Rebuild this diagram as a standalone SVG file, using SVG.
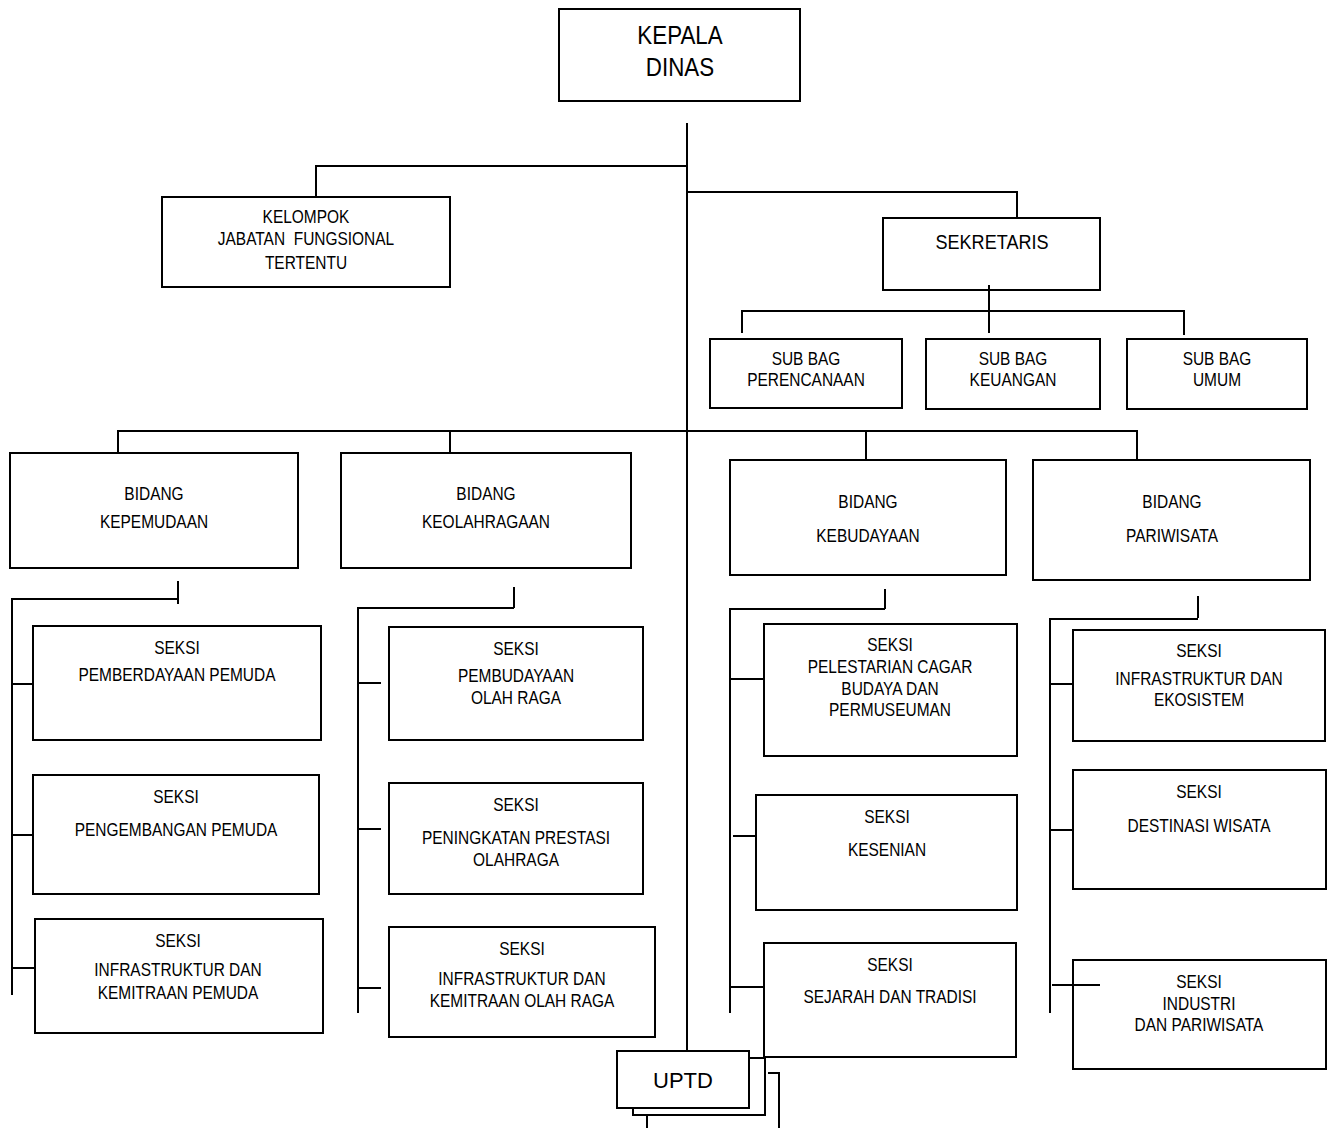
<svg xmlns="http://www.w3.org/2000/svg" width="1336" height="1128" viewBox="0 0 1336 1128">
<style>
rect{fill:#fff;stroke:#000;stroke-width:2}
line,polyline{stroke:#000;stroke-width:2;fill:none}
text{font-family:"Liberation Sans Narrow","Liberation Sans",Arial,sans-serif;font-size:18px;text-anchor:middle;fill:#000}
.big{font-size:26px}
.mid{font-size:21px}
.uptd{font-size:22px}
</style>
<rect width="1336" height="1128" style="fill:#fff;stroke:none"/>
<g id="connectors">
<line x1="687" y1="123" x2="687" y2="1052"/>
<polyline points="687,166 316,166 316,197"/>
<polyline points="687,192 1017,192 1017,218"/>
<line x1="989" y1="285" x2="989" y2="333"/>
<polyline points="742,333 742,311 1184,311 1184,335"/>
<polyline points="118,453 118,431 1137,431 1137,460"/>
<line x1="450" y1="431" x2="450" y2="453"/>
<line x1="866" y1="431" x2="866" y2="460"/>
<line x1="178" y1="581" x2="178" y2="604"/>
<polyline points="178,599 12,599 12,995"/>
<line x1="12" y1="684" x2="33" y2="684"/>
<line x1="12" y1="835" x2="34" y2="835"/>
<line x1="12" y1="968" x2="35" y2="968"/>
<line x1="514" y1="587" x2="514" y2="608"/>
<polyline points="514,608 358,608 358,1013"/>
<line x1="358" y1="683" x2="381" y2="683"/>
<line x1="358" y1="829" x2="381" y2="829"/>
<line x1="357" y1="988" x2="381" y2="988"/>
<line x1="885" y1="589" x2="885" y2="609"/>
<polyline points="885,609 730,609 730,1013"/>
<line x1="730" y1="679" x2="764" y2="679"/>
<line x1="733" y1="836" x2="756" y2="836"/>
<line x1="730" y1="987" x2="764" y2="987"/>
<line x1="1198" y1="596" x2="1198" y2="618"/>
<polyline points="1198,619 1050,619 1050,1013"/>
<line x1="1050" y1="684" x2="1073" y2="684"/>
<line x1="1050" y1="830" x2="1073" y2="830"/>
<polyline points="768,1073 779,1073 779,1128"/>
<line x1="647" y1="1115" x2="647" y2="1128"/>
</g>
<g id="kepala-dinas"><rect x="559" y="9" width="241" height="92"/><g transform="translate(680 0) scale(0.86 1)"><text class="big" x="0" y="44">KEPALA</text><text class="big" x="0" y="76">DINAS</text></g></g>
<g id="kelompok"><rect x="162" y="197" width="288" height="90"/><g transform="translate(306 0) scale(0.86 1)"><text x="0" y="223">KELOMPOK</text><text x="0" y="245" xml:space="preserve">JABATAN  FUNGSIONAL</text><text x="0" y="269">TERTENTU</text></g></g>
<g id="sekretaris"><rect x="883" y="218" width="217" height="72"/><g transform="translate(992 0) scale(0.86 1)"><text class="mid" x="0" y="249">SEKRETARIS</text></g></g>
<line x1="989" y1="285" x2="989" y2="300"/>
<g id="subbag-perencanaan"><rect x="710" y="339" width="192" height="69"/><g transform="translate(806 0) scale(0.86 1)"><text x="0" y="365">SUB BAG</text><text x="0" y="386">PERENCANAAN</text></g></g>
<g id="subbag-keuangan"><rect x="926" y="339" width="174" height="70"/><g transform="translate(1013 0) scale(0.86 1)"><text x="0" y="365">SUB BAG</text><text x="0" y="386">KEUANGAN</text></g></g>
<g id="subbag-umum"><rect x="1127" y="339" width="180" height="70"/><g transform="translate(1217 0) scale(0.86 1)"><text x="0" y="365">SUB BAG</text><text x="0" y="386">UMUM</text></g></g>
<g id="bidang-kepemudaan"><rect x="10" y="453" width="288" height="115"/><g transform="translate(154 0) scale(0.86 1)"><text x="0" y="500">BIDANG</text><text x="0" y="528">KEPEMUDAAN</text></g></g>
<g id="bidang-keolahragaan"><rect x="341" y="453" width="290" height="115"/><g transform="translate(486 0) scale(0.86 1)"><text x="0" y="500">BIDANG</text><text x="0" y="528">KEOLAHRAGAAN</text></g></g>
<g id="bidang-kebudayaan"><rect x="730" y="460" width="276" height="115"/><g transform="translate(868 0) scale(0.86 1)"><text x="0" y="508">BIDANG</text><text x="0" y="542">KEBUDAYAAN</text></g></g>
<g id="bidang-pariwisata"><rect x="1033" y="460" width="277" height="120"/><g transform="translate(1172 0) scale(0.86 1)"><text x="0" y="508">BIDANG</text><text x="0" y="542">PARIWISATA</text></g></g>
<g id="seksi-pemberdayaan"><rect x="33" y="626" width="288" height="114"/><g transform="translate(177 0) scale(0.86 1)"><text x="0" y="654">SEKSI</text><text x="0" y="681">PEMBERDAYAAN PEMUDA</text></g></g>
<g id="seksi-pengembangan"><rect x="33" y="775" width="286" height="119"/><g transform="translate(176 0) scale(0.86 1)"><text x="0" y="803">SEKSI</text><text x="0" y="836">PENGEMBANGAN PEMUDA</text></g></g>
<g id="seksi-infra-pemuda"><rect x="35" y="919" width="288" height="114"/><g transform="translate(178 0) scale(0.86 1)"><text x="0" y="947">SEKSI</text><text x="0" y="976">INFRASTRUKTUR DAN</text><text x="0" y="999">KEMITRAAN PEMUDA</text></g></g>
<g id="seksi-pembudayaan"><rect x="389" y="627" width="254" height="113"/><g transform="translate(516 0) scale(0.86 1)"><text x="0" y="655">SEKSI</text><text x="0" y="682">PEMBUDAYAAN</text><text x="0" y="704">OLAH RAGA</text></g></g>
<g id="seksi-peningkatan"><rect x="389" y="783" width="254" height="111"/><g transform="translate(516 0) scale(0.86 1)"><text x="0" y="811">SEKSI</text><text x="0" y="844">PENINGKATAN PRESTASI</text><text x="0" y="866">OLAHRAGA</text></g></g>
<g id="seksi-infra-olahraga"><rect x="389" y="927" width="266" height="110"/><g transform="translate(522 0) scale(0.86 1)"><text x="0" y="955">SEKSI</text><text x="0" y="985">INFRASTRUKTUR DAN</text><text x="0" y="1007">KEMITRAAN OLAH RAGA</text></g></g>
<g id="seksi-pelestarian"><rect x="764" y="624" width="253" height="132"/><g transform="translate(890 0) scale(0.86 1)"><text x="0" y="651">SEKSI</text><text x="0" y="673">PELESTARIAN CAGAR</text><text x="0" y="695">BUDAYA DAN</text><text x="0" y="716">PERMUSEUMAN</text></g></g>
<g id="seksi-kesenian"><rect x="756" y="795" width="261" height="115"/><g transform="translate(887 0) scale(0.86 1)"><text x="0" y="823">SEKSI</text><text x="0" y="856">KESENIAN</text></g></g>
<g id="seksi-sejarah"><rect x="764" y="943" width="252" height="114"/><g transform="translate(890 0) scale(0.86 1)"><text x="0" y="971">SEKSI</text><text x="0" y="1003">SEJARAH DAN TRADISI</text></g></g>
<g id="seksi-infra-ekosistem"><rect x="1073" y="630" width="252" height="111"/><g transform="translate(1199 0) scale(0.86 1)"><text x="0" y="657">SEKSI</text><text x="0" y="685">INFRASTRUKTUR DAN</text><text x="0" y="706">EKOSISTEM</text></g></g>
<g id="seksi-destinasi"><rect x="1073" y="770" width="253" height="119"/><g transform="translate(1199 0) scale(0.86 1)"><text x="0" y="798">SEKSI</text><text x="0" y="832">DESTINASI WISATA</text></g></g>
<g id="seksi-industri"><rect x="1073" y="960" width="253" height="109"/><g transform="translate(1199 0) scale(0.86 1)"><text x="0" y="988">SEKSI</text><text x="0" y="1010">INDUSTRI</text><text x="0" y="1031">DAN PARIWISATA</text></g></g>
<line x1="1052" y1="985" x2="1100" y2="985"/>
<g id="uptd"><rect x="633" y="1058" width="132" height="57"/><rect x="617" y="1051" width="132" height="57"/><text class="uptd" x="683" y="1088">UPTD</text></g>
<line x1="749" y1="1058" x2="765" y2="1058"/>
</svg>
